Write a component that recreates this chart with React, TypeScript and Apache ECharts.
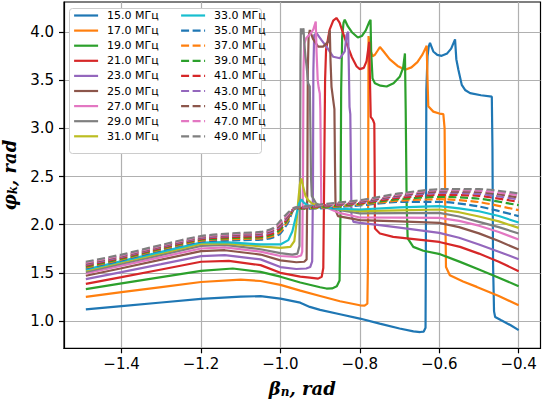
import React, { useEffect, useRef } from 'react';
import * as echarts from 'echarts';

// ---- tick values ----
const xTicks = [-1.4, -1.2, -1.0, -0.8, -0.6, -0.4];
const yTicks = [1.0, 1.5, 2.0, 2.5, 3.0, 3.5, 4.0];

// ---- legend labels ----
const solidNames = ['15.0 МГц', '17.0 МГц', '19.0 МГц', '21.0 МГц', '23.0 МГц', '25.0 МГц', '27.0 МГц', '29.0 МГц', '31.0 МГц', '33.0 МГц'];
const dashNames = ['35.0 МГц', '37.0 МГц', '39.0 МГц', '41.0 МГц', '43.0 МГц', '45.0 МГц', '47.0 МГц', '49.0 МГц'];
const palette = ['#1f77b4', '#ff7f0e', '#2ca02c', '#d62728', '#9467bd', '#8c564b', '#e377c2', '#7f7f7f', '#bcbd22', '#17becf'];

// ---- solid series: [beta, phi] ----
const s15 = [[-1.49,1.12],[-1.4,1.155],[-1.3,1.192],[-1.2,1.23],[-1.1,1.252],[-1.05,1.258],[-1.0,1.232],[-0.95,1.19],[-0.926,1.146],[-0.9,1.115],[-0.85,1.07],[-0.8,1.025],[-0.75,0.972],[-0.7,0.922],[-0.665,0.892],[-0.648,0.885],[-0.639,0.89],[-0.6345,0.93],[-0.6335,2.0],[-0.6325,3.4],[-0.6295,3.75],[-0.6265,3.85],[-0.6233,3.89],[-0.615,3.8],[-0.605,3.765],[-0.594,3.755],[-0.58,3.78],[-0.57,3.83],[-0.5602,3.925],[-0.557,3.72],[-0.5518,3.61],[-0.5433,3.453],[-0.535,3.4],[-0.5223,3.367],[-0.495,3.345],[-0.4676,3.33],[-0.466,2.8],[-0.4645,1.6],[-0.462,1.1],[-0.4592,1.042],[-0.445,1.01],[-0.42,0.955],[-0.4,0.905]];
const s17 = [[-1.49,1.25],[-1.4,1.3],[-1.3,1.352],[-1.2,1.405],[-1.1,1.43],[-1.05,1.415],[-1.0,1.375],[-0.95,1.315],[-0.9,1.26],[-0.85,1.205],[-0.8,1.163],[-0.788,1.16],[-0.781,1.18],[-0.7795,1.6],[-0.7787,3.0],[-0.778,3.96],[-0.774,3.82],[-0.768,3.75],[-0.762,3.766],[-0.755,3.81],[-0.7494,3.846],[-0.74,3.8],[-0.725,3.72],[-0.705,3.65],[-0.686,3.61],[-0.67,3.635],[-0.655,3.69],[-0.642,3.77],[-0.6316,3.86],[-0.6295,3.5],[-0.6276,3.23],[-0.615,3.175],[-0.6,3.155],[-0.5897,3.15],[-0.5865,3.0],[-0.585,2.2],[-0.583,1.56],[-0.5733,1.475],[-0.54,1.41],[-0.5054,1.354],[-0.45,1.26],[-0.4,1.163]];
const s19 = [[-1.49,1.33],[-1.4,1.39],[-1.3,1.455],[-1.2,1.52],[-1.12,1.545],[-1.05,1.51],[-1.0,1.46],[-0.95,1.4],[-0.9,1.35],[-0.884,1.337],[-0.87,1.338],[-0.858,1.36],[-0.851,1.42],[-0.8485,2.2],[-0.847,3.4],[-0.8445,3.95],[-0.841,4.1],[-0.838,4.13],[-0.83,4.06],[-0.82,4.0],[-0.805,3.945],[-0.795,3.96],[-0.785,4.02],[-0.777,4.1],[-0.773,4.13],[-0.7715,3.8],[-0.768,3.52],[-0.762,3.47],[-0.748,3.445],[-0.7325,3.436],[-0.715,3.47],[-0.699,3.54],[-0.691,3.63],[-0.6864,3.78],[-0.6845,3.2],[-0.682,2.2],[-0.6795,1.857],[-0.6654,1.77],[-0.64,1.73],[-0.598,1.694],[-0.5476,1.614],[-0.5,1.535],[-0.45,1.45],[-0.4,1.361]];
const s21 = [[-1.49,1.385],[-1.4,1.455],[-1.3,1.535],[-1.2,1.615],[-1.13,1.625],[-1.05,1.58],[-1.0,1.5],[-0.95,1.46],[-0.926,1.45],[-0.905,1.44],[-0.896,1.46],[-0.892,1.55],[-0.8895,2.6],[-0.8875,3.5],[-0.885,3.82],[-0.876,4.026],[-0.867,4.12],[-0.859,4.148],[-0.851,4.1],[-0.843,4.0],[-0.8335,3.887],[-0.82,3.74],[-0.808,3.644],[-0.8,3.617],[-0.79,3.63],[-0.783,3.7],[-0.7764,3.9],[-0.7745,3.5],[-0.7725,3.12],[-0.767,3.09],[-0.7635,3.05],[-0.7625,2.5],[-0.762,1.96],[-0.7494,1.909],[-0.716,1.874],[-0.6,1.821],[-0.5476,1.77],[-0.5,1.7],[-0.45,1.615],[-0.4,1.517]];
const s23 = [[-1.49,1.435],[-1.4,1.508],[-1.3,1.59],[-1.2,1.673],[-1.14,1.685],[-1.05,1.64],[-1.0,1.56],[-0.96,1.54],[-0.935,1.545],[-0.925,1.56],[-0.92,1.62],[-0.918,2.4],[-0.917,3.6],[-0.915,3.97],[-0.909,3.99],[-0.897,3.92],[-0.884,3.85],[-0.867,3.745],[-0.85,3.73],[-0.838,3.8],[-0.8335,3.97],[-0.8294,4.005],[-0.8275,3.6],[-0.826,3.225],[-0.824,3.15],[-0.8225,2.6],[-0.821,2.1],[-0.816,2.03],[-0.8,2.019],[-0.75,1.995],[-0.7,1.97],[-0.6,1.915],[-0.55,1.865],[-0.5,1.795],[-0.45,1.72],[-0.4,1.642]];
const s25 = [[-1.49,1.47],[-1.4,1.548],[-1.3,1.637],[-1.2,1.725],[-1.14,1.735],[-1.05,1.69],[-1.0,1.63],[-0.96,1.61],[-0.94,1.615],[-0.934,1.64],[-0.932,2.5],[-0.931,3.6],[-0.929,3.95],[-0.926,4.023],[-0.918,3.93],[-0.905,3.85],[-0.8925,3.85],[-0.88,3.9],[-0.8756,4.02],[-0.8738,3.7],[-0.8713,3.433],[-0.867,3.295],[-0.864,3.2],[-0.8625,2.6],[-0.861,2.15],[-0.855,2.09],[-0.8,2.047],[-0.7,2.035],[-0.6,2.019],[-0.55,1.975],[-0.5,1.91],[-0.45,1.83],[-0.4,1.742]];
const s27 = [[-1.49,1.495],[-1.4,1.575],[-1.3,1.664],[-1.2,1.753],[-1.14,1.765],[-1.05,1.72],[-1.0,1.675],[-0.96,1.665],[-0.948,1.68],[-0.945,1.72],[-0.943,2.6],[-0.942,3.6],[-0.94,3.88],[-0.935,3.94],[-0.925,3.98],[-0.917,4.03],[-0.911,4.11],[-0.909,3.8],[-0.906,3.5],[-0.9035,3.42],[-0.9008,3.364],[-0.8995,3.2],[-0.898,2.6],[-0.897,2.22],[-0.89,2.19],[-0.85,2.12],[-0.8,2.075],[-0.7,2.073],[-0.6,2.071],[-0.55,2.04],[-0.5,1.99],[-0.45,1.925],[-0.4,1.846]];
const s29 = [[-1.49,1.51],[-1.4,1.594],[-1.3,1.687],[-1.2,1.78],[-1.14,1.79],[-1.05,1.745],[-1.0,1.705],[-0.97,1.69],[-0.957,1.7],[-0.952,1.78],[-0.9505,2.6],[-0.9495,3.7],[-0.9485,4.04],[-0.946,3.98],[-0.942,4.04],[-0.94,3.9],[-0.937,3.75],[-0.934,3.644],[-0.9302,3.47],[-0.926,3.435],[-0.9245,3.0],[-0.923,2.5],[-0.921,2.3],[-0.91,2.22],[-0.9,2.2],[-0.85,2.15],[-0.8,2.117],[-0.7,2.12],[-0.6,2.123],[-0.55,2.085],[-0.5,2.03],[-0.45,1.975],[-0.4,1.909]];
const s31 = [[-1.49,1.525],[-1.4,1.61],[-1.3,1.705],[-1.2,1.8],[-1.14,1.805],[-1.05,1.775],[-1.0,1.76],[-0.975,1.77],[-0.965,1.83],[-0.96,2.0],[-0.955,2.25],[-0.951,2.42],[-0.947,2.48],[-0.943,2.4],[-0.937,2.3],[-0.93,2.255],[-0.92,2.22],[-0.9,2.195],[-0.85,2.16],[-0.8,2.141],[-0.7,2.15],[-0.6,2.158],[-0.55,2.13],[-0.5,2.085],[-0.45,2.035],[-0.4,1.967]];
const s33 = [[-1.49,1.535],[-1.4,1.622],[-1.3,1.718],[-1.2,1.815],[-1.14,1.82],[-1.05,1.795],[-1.0,1.795],[-0.98,1.84],[-0.97,1.93],[-0.96,2.1],[-0.953,2.22],[-0.947,2.262],[-0.94,2.225],[-0.93,2.2],[-0.9,2.18],[-0.85,2.165],[-0.8,2.158],[-0.7,2.18],[-0.6,2.193],[-0.55,2.17],[-0.5,2.14],[-0.45,2.09],[-0.4,2.023]];

// ---- dashed series: shared beta grid ----
const dashX = [-1.49, -1.4, -1.3, -1.2, -1.1, -1.05, -1.02, -1.0, -0.98, -0.965, -0.94, -0.9, -0.8, -0.7, -0.6, -0.5, -0.4];
const d35 = [1.545, 1.63, 1.735, 1.825, 1.84, 1.845, 1.865, 1.91, 2.03, 2.16, 2.165, 2.17, 2.2, 2.237, 2.237, 2.19, 2.089];
const d37 = [1.555, 1.64, 1.744, 1.835, 1.853, 1.858, 1.88, 1.93, 2.05, 2.163, 2.169, 2.176, 2.21, 2.25, 2.265, 2.235, 2.151];
const d39 = [1.565, 1.648, 1.752, 1.844, 1.865, 1.87, 1.895, 1.95, 2.065, 2.166, 2.173, 2.183, 2.218, 2.265, 2.29, 2.27, 2.203];
const d41 = [1.575, 1.657, 1.76, 1.852, 1.876, 1.882, 1.91, 1.97, 2.08, 2.168, 2.177, 2.19, 2.225, 2.28, 2.31, 2.3, 2.237];
const d43 = [1.585, 1.666, 1.768, 1.86, 1.888, 1.895, 1.927, 1.985, 2.09, 2.17, 2.18, 2.195, 2.232, 2.295, 2.33, 2.32, 2.262];
const d45 = [1.595, 1.674, 1.775, 1.868, 1.898, 1.907, 1.94, 2.0, 2.1, 2.172, 2.184, 2.2, 2.24, 2.305, 2.345, 2.34, 2.283];
const d47 = [1.605, 1.682, 1.783, 1.875, 1.907, 1.917, 1.95, 2.02, 2.115, 2.175, 2.187, 2.205, 2.25, 2.315, 2.36, 2.355, 2.307];
const d49 = [1.615, 1.69, 1.79, 1.882, 1.915, 1.925, 1.96, 2.04, 2.13, 2.175, 2.19, 2.21, 2.255, 2.325, 2.369, 2.37, 2.325];

const solidData = [s15, s17, s19, s21, s23, s25, s27, s29, s31, s33];
const dashData = [d35, d37, d39, d41, d43, d45, d47, d49];

const FONT = 'DejaVu Sans';
const NAME_FONT = 'DejaVu Serif';

function buildOption() {
  const series: any[] = [];
  solidData.forEach((d, i) => {
    series.push({
      type: 'line', name: solidNames[i], data: d, symbol: 'none', showSymbol: false,
      lineStyle: { color: palette[i], width: 2.2, type: 'solid' },
      itemStyle: { color: palette[i] }, z: 2,
    });
  });
  dashData.forEach((d, i) => {
    series.push({
      type: 'line', name: dashNames[i], data: dashX.map((x, k) => [x, d[k]]), symbol: 'none', showSymbol: false,
      smooth: 0.25,
      lineStyle: { color: palette[i], width: 2.2, type: [8, 3.5] },
      itemStyle: { color: palette[i] }, z: 2,
    });
  });

  const nameRich = {
    a: { fontFamily: NAME_FONT, fontWeight: 'bold', fontStyle: 'italic', fontSize: 18, color: '#000', lineHeight: 20, verticalAlign: 'middle' },
    b: { fontFamily: NAME_FONT, fontWeight: 'bold', fontStyle: 'italic', fontSize: 12, color: '#000', lineHeight: 12, verticalAlign: 'bottom' },
  };

  const legendBase = {
    orient: 'vertical', top: 5, itemWidth: 24, itemHeight: 12, itemGap: 4.1, padding: 5,
    selectedMode: false, z: 20,
    itemStyle: { color: 'rgba(0,0,0,0)', borderColor: 'rgba(0,0,0,0)', borderWidth: 0 },
    lineStyle: { width: 2.2 },
    textStyle: { fontFamily: FONT, fontSize: 11, color: '#000', padding: [0, 0, 0, 4] },
  };

  return {
    animation: false,
    backgroundColor: '#fff',
    grid: { left: 64, right: 1.5, top: 2, bottom: 52.7, show: true, borderColor: '#000', borderWidth: 1.2, containLabel: false, outerBoundsMode: 'none' },
    graphic: [{
      type: 'rect', z: 10,
      shape: { x: 69.5, y: 8.5, width: 192, height: 145, r: 3 },
      style: { fill: '#ffffff', stroke: '#cccccc', lineWidth: 1 },
    }],
    legend: [
      { ...legendBase, left: 68, data: solidNames.slice(0, 9) },
      { ...legendBase, left: 175, data: [solidNames[9], ...dashNames] },
    ],
    xAxis: {
      type: 'value', min: -1.545, max: -0.345,
      axisLine: { show: true, onZero: false, lineStyle: { color: '#000', width: 1.2 } },
      axisTick: { show: true, length: 5, customValues: xTicks, lineStyle: { color: '#000', width: 1.2 } },
      axisLabel: { customValues: xTicks, formatter: (v: number) => v.toFixed(1).replace('-', '\u2212'), fontFamily: FONT, fontSize: 15, color: '#000', margin: 8 },
      splitLine: { show: true, lineStyle: { color: '#b0b0b0', width: 1.2 } },
      name: '{a|β}{b|n}{a|, rad}', nameLocation: 'middle', nameGap: 30,
      nameTextStyle: { rich: nameRich },
    },
    yAxis: {
      type: 'value', min: 0.716, max: 4.314,
      axisLine: { show: true, onZero: false, lineStyle: { color: '#000', width: 1.2 } },
      axisTick: { show: true, length: 5, customValues: yTicks, lineStyle: { color: '#000', width: 1.2 } },
      axisLabel: { customValues: yTicks, formatter: (v: number) => v.toFixed(1), fontFamily: FONT, fontSize: 15, color: '#000', margin: 10 },
      splitLine: { show: true, lineStyle: { color: '#b0b0b0', width: 1.2 } },
      name: '{a|φ}{b|k}{a|, rad}', nameLocation: 'middle', nameGap: 30, nameRotate: 90,
      nameTextStyle: { rich: nameRich },
    },
    series,
  };
}

export default function App() {
  const ref = useRef<HTMLDivElement>(null);
  useEffect(() => {
    if (!ref.current) return;
    const chart = echarts.init(ref.current, null, { renderer: 'svg' });
    chart.setOption(buildOption() as any);
    return () => chart.dispose();
  }, []);
  return <div ref={ref} style={{ position: 'fixed', left: 0, top: 0, width: 542, height: 401 }} />;
}
